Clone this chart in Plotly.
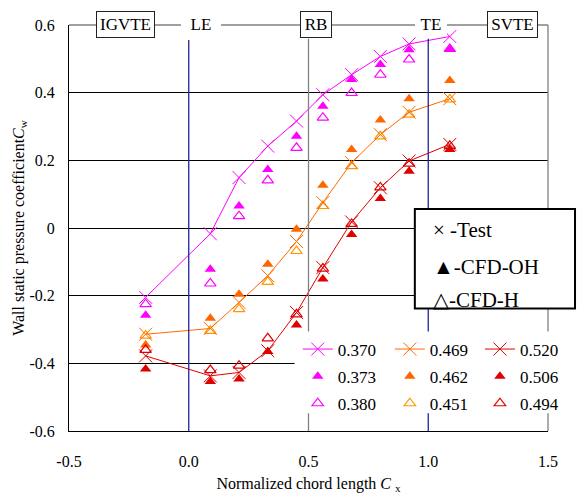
import plotly.graph_objects as go

# ---- data ----
cx = [-0.18, 0.09, 0.21, 0.33, 0.45, 0.56, 0.68, 0.80, 0.92, 1.09]

test_370 = [-0.205, -0.017, 0.149, 0.242, 0.316, 0.394, 0.453, 0.507, 0.544, 0.566]
oh_373 = [-0.258, -0.122, 0.065, 0.173, 0.271, 0.360, 0.439, 0.483, 0.527, 0.529]
h_380 = [-0.225, -0.164, 0.035, 0.141, 0.237, 0.326, 0.399, 0.453, 0.498, 0.529]

test_469 = [-0.314, -0.297, -0.220, -0.141, -0.040, 0.075, 0.193, 0.276, 0.342, 0.382]
oh_462 = [-0.346, -0.267, -0.196, -0.107, -0.004, 0.126, 0.232, 0.319, 0.382, 0.436]
h_451 = [-0.318, -0.304, -0.240, -0.159, -0.068, 0.065, 0.183, 0.271, 0.335, 0.380]

test_520 = [-0.378, -0.437, -0.427, -0.363, -0.250, -0.117, 0.018, 0.119, 0.198, 0.247]
oh_506 = [-0.417, -0.454, -0.446, -0.365, -0.287, -0.151, -0.019, 0.087, 0.168, 0.232]
h_494 = [-0.360, -0.420, -0.407, -0.326, -0.255, -0.120, 0.012, 0.120, 0.190, 0.243]

x_tickvals = [-0.5, 0.0, 0.5, 1.0, 1.5]
x_ticktext = ["-0.5", "0.0", "0.5", "1.0", "1.5"]
y_tickvals = [-0.6, -0.4, -0.2, 0.0, 0.2, 0.4, 0.6]
y_ticktext = ["-0.6", "-0.4", "-0.2", "0", "0.2", "0.4", "0.6"]

region_labels = ["IGVTE", "LE", "RB", "TE", "SVTE"]
type_labels = ["\u00d7 -Test", "\u25b2-CFD-OH", "\u25b3-CFD-H"]

FONT = "Liberation Serif"
MAG = "#FF00FF"
ORA_L = "#FF6A00"
ORA_F = "#FF6600"
ORA_O = "#FF9900"
RED = "#E00000"
BLUE = "#22229C"
GRAY = "#808080"

fig = go.Figure()

series = [
    # (name, y, kind, color, legend)
    ("0.370", test_370, "test", MAG, "legend"),
    ("0.373", oh_373, "oh", MAG, "legend"),
    ("0.380", h_380, "h", MAG, "legend"),
    ("0.469", test_469, "test", ORA_L, "legend2"),
    ("0.462", oh_462, "oh", ORA_F, "legend2"),
    ("0.451", h_451, "h", ORA_O, "legend2"),
    ("0.520", test_520, "test", RED, "legend3"),
    ("0.506", oh_506, "oh", RED, "legend3"),
    ("0.494", h_494, "h", RED, "legend3"),
]
rank = {"test": 1, "oh": 2, "h": 3}

# draw triangles first, crosses on top
order = [s for s in series if s[2] != "test"] + [s for s in series if s[2] == "test"]
for name, y, kind, col, leg in order:
    if kind == "test":
        fig.add_trace(go.Scatter(
            x=cx, y=y, name=name, mode="lines+markers", legend=leg, legendgroup=name,
            legendrank=rank[kind],
            line=dict(color=col, width=1),
            marker=dict(symbol="x-thin", size=13, line=dict(color=col, width=1), color=col),
        ))
    elif kind == "oh":
        fig.add_trace(go.Scatter(
            x=cx, y=y, name=name, mode="markers", legend=leg, legendgroup=name,
            legendrank=rank[kind],
            marker=dict(symbol="triangle-up", size=10, color=col, line=dict(width=0)),
        ))
    else:
        fig.add_trace(go.Scatter(
            x=cx, y=y, name=name, mode="markers", legend=leg, legendgroup=name,
            legendrank=rank[kind],
            marker=dict(symbol="triangle-up-open", size=10, color=col, line=dict(color=col, width=1.2)),
        ))

shapes = [
    # top and right frame lines (gray)
    dict(type="line", xref="paper", yref="paper", x0=0, x1=1, y0=1, y1=1, line=dict(color=GRAY, width=1.3)),
    dict(type="line", xref="paper", yref="paper", x0=1, x1=1, y0=0, y1=1, line=dict(color=GRAY, width=1.3)),
    # LE, RB, TE lines
    dict(type="line", xref="x", yref="paper", x0=0.0, x1=0.0, y0=0, y1=0.963, line=dict(color=BLUE, width=1.3)),
    dict(type="line", xref="x", yref="paper", x0=0.5, x1=0.5, y0=0, y1=0.966, line=dict(color=GRAY, width=1.3)),
    dict(type="line", xref="x", yref="paper", x0=1.0, x1=1.0, y0=0, y1=0.966, line=dict(color=BLUE, width=1.3)),
    # white background behind the value legend
    dict(type="rect", xref="paper", yref="paper", x0=0.471, x1=1.01, y0=0.044, y1=0.245,
         fillcolor="white", line=dict(width=0), layer="above"),
    # boxed type legend
    dict(type="rect", xref="paper", yref="paper", x0=0.722, x1=1.0564, y0=0.3015, y1=0.5466,
         fillcolor="white", line=dict(color="black", width=2), layer="above"),
]

annotations = []
# region labels along the top
reg_pos = [0.118, 0.2748, 0.515, 0.7555, 0.9264]
reg_w = [51, 40, 24, 32, 43]
reg_box = [True, False, True, False, True]
for lab, px, w, bx in zip(region_labels, reg_pos, reg_w, reg_box):
    annotations.append(dict(
        text=lab, xref="paper", yref="paper", x=px, y=1.0012, xanchor="center", yanchor="middle",
        showarrow=False, font=dict(family=FONT, size=17, color="black"),
        bgcolor="white", bordercolor="#222" if bx else "rgba(0,0,0,0)",
        borderwidth=1 if bx else 0, borderpad=3 if bx else 0, width=w,
    ))
# boxed legend text
tl_y = [(433 - 230.7) / 408, (433 - 268.3) / 408, (433 - 301.7) / 408]
for lab, yy in zip(type_labels, tl_y):
    annotations.append(dict(
        text=lab, xref="paper", yref="paper", x=(431 - 69.5) / 478.5, y=yy,
        xanchor="left", yanchor="middle", showarrow=False,
        font=dict(family=FONT, size=21, color="black"),
    ))

leg_common = dict(
    xanchor="left", yanchor="top", bgcolor="rgba(0,0,0,0)", borderwidth=0,
    font=dict(family=FONT, size=17, color="black"), tracegroupgap=2, orientation="v",
)

fig.update_layout(
    width=577, height=501,
    margin=dict(l=69, r=29, t=25, b=68),
    paper_bgcolor="white", plot_bgcolor="white",
    font=dict(family=FONT, color="black"),
    showlegend=True,
    legend=dict(x=(298 - 69.5) / 478.5, y=(433 - 333) / 408, **leg_common),
    legend2=dict(x=(390 - 69.5) / 478.5, y=(433 - 333) / 408, **leg_common),
    legend3=dict(x=(480 - 69.5) / 478.5, y=(433 - 333) / 408, **leg_common),
    xaxis=dict(
        range=[-0.5, 1.5], tickvals=x_tickvals, ticktext=x_ticktext,
        showgrid=False, zeroline=False, showline=True, linecolor="black", linewidth=1,
        ticks="", tickfont=dict(family=FONT, size=16, color="black"), ticklabelstandoff=16,
        title=dict(text="Normalized chord length <i>C</i> <sub>x</sub>",
                   font=dict(family=FONT, size=16, color="black"), standoff=8),
    ),
    yaxis=dict(
        range=[-0.6, 0.6], tickvals=y_tickvals, ticktext=y_ticktext,
        showgrid=True, gridcolor="black", gridwidth=1, zeroline=False,
        showline=True, linecolor="black", linewidth=1,
        ticks="inside", ticklen=5, tickcolor="black",
        tickfont=dict(family=FONT, size=16, color="black"), ticklabelstandoff=10,
        title=dict(text="Wall static pressure coefficient<i>C</i><sub>w</sub>",
                   font=dict(family=FONT, size=16, color="black"), standoff=0),
    ),
    shapes=shapes, annotations=annotations,
)

fig.write_html("out.html")
